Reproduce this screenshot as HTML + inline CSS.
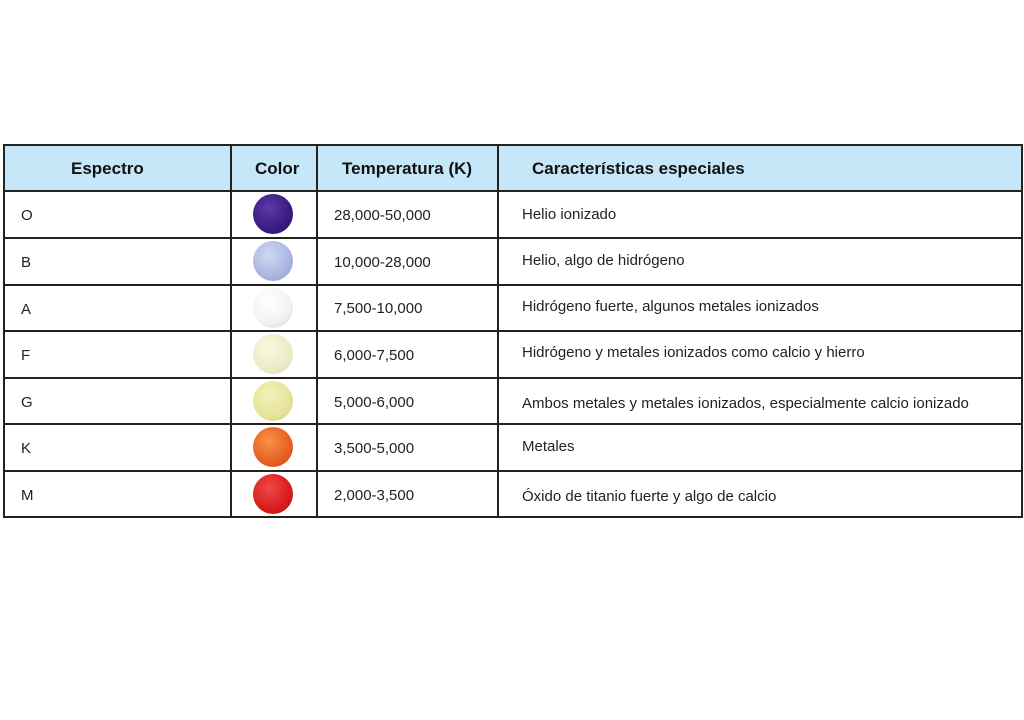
<!DOCTYPE html>
<html><head><meta charset="utf-8"><style>
body{margin:0;width:1024px;height:720px;background:#fff;position:relative;font-family:"Liberation Sans","DejaVu Sans",sans-serif;overflow:hidden}
.h{position:absolute;top:145px;height:45px;left:4px;width:1018px;background:#c6e7f8}
.l{position:absolute;background:#222}
.t{position:absolute;font-size:15px;color:#222;white-space:nowrap;line-height:20px}
.d{font-size:15px}
.b{font-weight:bold;font-size:17px;color:#111}
.c{position:absolute;width:40px;height:40px;border-radius:50%;left:253px}
</style></head><body>
<div class="h"></div>
<div class="l" style="left:3px;top:144px;width:1020px;height:2px"></div>
<div class="l" style="left:3px;top:190px;width:1020px;height:2px"></div>
<div class="l" style="left:3px;top:237px;width:1020px;height:2px"></div>
<div class="l" style="left:3px;top:284px;width:1020px;height:2px"></div>
<div class="l" style="left:3px;top:330px;width:1020px;height:2px"></div>
<div class="l" style="left:3px;top:377px;width:1020px;height:2px"></div>
<div class="l" style="left:3px;top:423px;width:1020px;height:2px"></div>
<div class="l" style="left:3px;top:470px;width:1020px;height:2px"></div>
<div class="l" style="left:3px;top:516px;width:1020px;height:2px"></div>
<div class="l" style="left:3px;top:144px;width:2px;height:374px"></div>
<div class="l" style="left:230px;top:144px;width:2px;height:374px"></div>
<div class="l" style="left:316px;top:144px;width:2px;height:374px"></div>
<div class="l" style="left:497px;top:144px;width:2px;height:374px"></div>
<div class="l" style="left:1021px;top:144px;width:2px;height:374px"></div>
<div class="t b" style="left:71px;top:159px">Espectro</div>
<div class="t b" style="left:255px;top:159px">Color</div>
<div class="t b" style="left:342px;top:159px">Temperatura (K)</div>
<div class="t b" style="left:532px;top:159px">Características especiales</div>

<div class="c" style="top:194px;background:radial-gradient(circle at 40% 35%,#5a3aa8,#3a1a82 60%,#2a1060)"></div>
<div class="c" style="top:241px;background:radial-gradient(circle at 40% 35%,#d0d8f0,#a8b6e0 60%,#8e9dcc)"></div>
<div class="c" style="top:288px;background:radial-gradient(circle at 40% 35%,#fff,#f2f2f2 60%,#d0d0d0)"></div>
<div class="c" style="top:334px;background:radial-gradient(circle at 40% 35%,#f8f8e0,#ececc8 60%,#d8d8b0)"></div>
<div class="c" style="top:381px;background:radial-gradient(circle at 40% 35%,#f2f0b8,#e6e49a 60%,#d0cc80)"></div>
<div class="c" style="top:427px;background:radial-gradient(circle at 40% 35%,#f89048,#e86020 60%,#c84810)"></div>
<div class="c" style="top:474px;background:radial-gradient(circle at 40% 35%,#f04848,#d81c1c 60%,#b01010)"></div>

<div class="t" style="left:21px;top:206px">O</div>
<div class="t" style="left:21px;top:253px">B</div>
<div class="t" style="left:21px;top:300px">A</div>
<div class="t" style="left:21px;top:346px">F</div>
<div class="t" style="left:21px;top:393px">G</div>
<div class="t" style="left:21px;top:439px">K</div>
<div class="t" style="left:21px;top:486px">M</div>

<div class="t" style="left:334px;top:206px">28,000-50,000</div>
<div class="t" style="left:334px;top:253px">10,000-28,000</div>
<div class="t" style="left:334px;top:299px">7,500-10,000</div>
<div class="t" style="left:334px;top:346px">6,000-7,500</div>
<div class="t" style="left:334px;top:393px">5,000-6,000</div>
<div class="t" style="left:334px;top:439px">3,500-5,000</div>
<div class="t" style="left:334px;top:486px">2,000-3,500</div>

<div class="t d" style="left:522px;top:205px">Helio ionizado</div>
<div class="t d" style="left:522px;top:251px">Helio, algo de hidrógeno</div>
<div class="t d" style="left:522px;top:297px">Hidrógeno fuerte, algunos metales ionizados</div>
<div class="t d" style="left:522px;top:343px">Hidrógeno y metales ionizados como calcio y hierro</div>
<div class="t d" style="left:522px;top:394px">Ambos metales y metales ionizados, especialmente calcio ionizado</div>
<div class="t d" style="left:522px;top:437px">Metales</div>
<div class="t d" style="left:522px;top:487px">Óxido de titanio fuerte y algo de calcio</div>
</body></html>
